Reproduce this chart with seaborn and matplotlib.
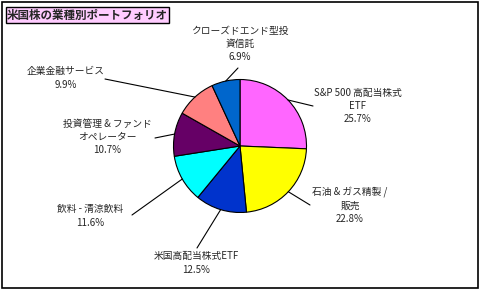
import numpy as np
import matplotlib.pyplot as plt
import matplotlib.patches as mpatches
import seaborn as sns

sns.set_style("white")
plt.rcParams["font.family"] = ["Noto Sans CJK JP", "DejaVu Sans"]

# --- Data ---
title = "米国株の業種別ポートフォリオ"
labels = ["S&P 500 高配当株式\nETF", "石油 & ガス精製 /\n販売", "米国高配当株式ETF",
          "飲料 - 清涼飲料", "投資管理 & ファンド\nオペレーター", "企業金融サービス",
          "クローズドエンド型投\n資信託"]
shares = [25.7, 22.8, 12.5, 11.6, 10.7, 9.9, 6.9]
colors = ["#FF66FF", "#FFFF00", "#0033CC", "#00FFFF", "#660066", "#FF8080", "#0066CC"]

# label centres and leader-line ends, in pixels from top-left
label_pos = [(358, 106), (350, 205), (196, 263), (90, 216), (107, 137), (66, 78), (240, 44)]
line_end = [(313, 106), (310, 205), (197, 248), (132, 215), (155, 138), (105, 79), (238, 68)]

W, H = 481, 291
cx, cy, r = 240, 146, 66.5

fig = plt.figure(figsize=(W / 100, H / 100), dpi=100)
ax = fig.add_axes([0, 0, 1, 1])

def py(y):
    # pixel row -> data y
    return H - y

# outer border
ax.add_patch(mpatches.Rectangle((2, py(288)), 476, 286, fill=False, ec="black", lw=1.2))

# pie
ax.pie(shares, colors=colors, startangle=90, counterclock=False,
       center=(cx, py(cy)), radius=r, frame=True,
       wedgeprops=dict(edgecolor="black", linewidth=0.8))
ax.set_xlim(0, W)
ax.set_ylim(0, H)
ax.set_aspect("equal")
ax.axis("off")

# labels + leader lines
cum = np.cumsum([0] + shares[:-1])
for i, (lab, val) in enumerate(zip(labels, shares)):
    mid = np.deg2rad(90 - (cum[i] + val / 2) / sum(shares) * 360)
    x0 = cx + r * np.cos(mid)
    y0 = py(cy) + r * np.sin(mid)
    x1, y1 = line_end[i]
    ax.plot([x0, x1], [y0, py(y1)], color="black", lw=0.8)
    lx, ly = label_pos[i]
    ax.text(lx, py(ly), lab + "\n" + f"{val}%", ha="center", va="center",
            fontsize=7, linespacing=1.4)

# title box
ax.text(7, py(15), title, ha="left", va="center", fontsize=8.3, fontweight="bold",
        bbox=dict(boxstyle="square,pad=0.12", fc="#FFCCFF", ec="black", lw=1))

fig.savefig("out.png", dpi=100)
